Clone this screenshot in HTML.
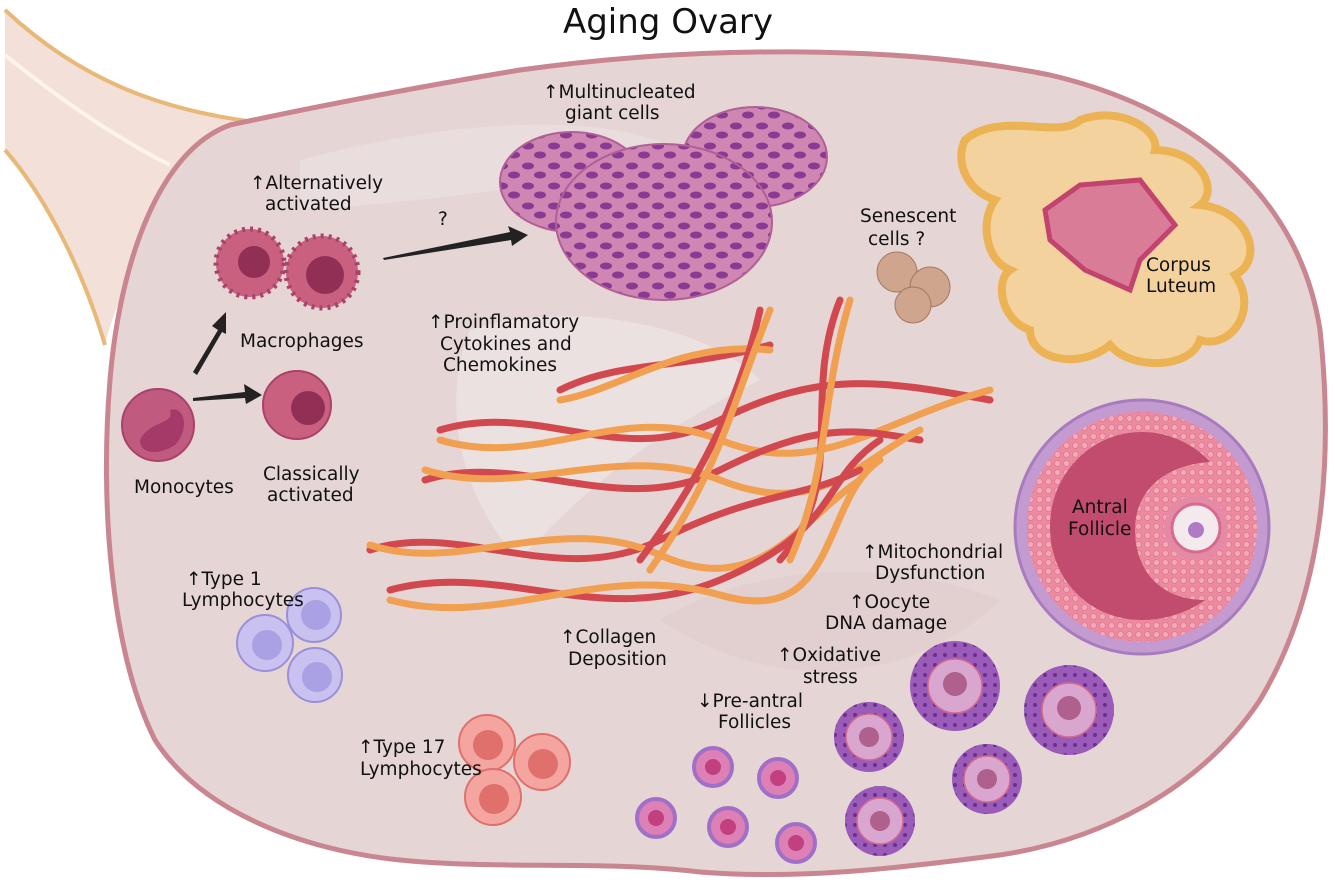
<!DOCTYPE html><html><head><style>body{margin:0;background:#fff}svg{display:block}text{font-family:"DejaVu Sans","Liberation Sans",sans-serif;font-size:18.5px;fill:#111}</style></head><body>
<svg width="1335" height="890" viewBox="0 0 1335 890" xmlns="http://www.w3.org/2000/svg">
<defs>
<pattern id="gc" width="9" height="9" patternUnits="userSpaceOnUse"><rect width="9" height="9" fill="#ec8aa0"/><circle cx="4.5" cy="4.5" r="3" fill="#f5a9b8" stroke="#d8708a" stroke-width="0.6"/></pattern>
<pattern id="pf" width="10" height="10" patternUnits="userSpaceOnUse"><rect width="10" height="10" fill="#9a5cb8"/><circle cx="5" cy="5" r="2" fill="#6b2f8f"/></pattern>
<pattern id="nuc" width="26" height="20" patternUnits="userSpaceOnUse"><rect width="26" height="20" fill="#cf86b3"/><ellipse cx="8" cy="6" rx="6" ry="3.5" fill="#8a3a93"/><ellipse cx="20" cy="15" rx="6" ry="3.5" fill="#8a3a93"/></pattern>
</defs>
<path d="M5,10 C80,80 160,110 255,122 L225,150 C170,200 120,280 105,345 C80,260 40,190 5,150 Z" fill="#f3e0d8"/>
<path d="M5,10 C80,80 160,110 255,122" fill="none" stroke="#e8b878" stroke-width="4"/>
<path d="M5,150 C40,190 80,260 105,345" fill="none" stroke="#e8b878" stroke-width="4"/>
<path d="M5,55 C60,100 120,140 170,165" fill="none" stroke="#fff3ee" stroke-width="4"/>
<path d="M230,125 C300,110 400,90 520,70 C700,45 900,45 1050,75 C1200,110 1300,200 1320,330 C1335,470 1320,600 1260,700 C1200,790 1100,840 1000,855 C900,868 800,880 700,872 C600,860 500,870 400,860 C300,850 200,810 155,740 C110,650 100,500 110,380 C120,260 160,150 230,125 Z" fill="#e6d5d5" stroke="#c98690" stroke-width="5"/>
<path d="M300,160 C450,120 600,110 680,150 C600,180 450,200 300,210 Z" fill="#ebdfdf" opacity="0.8"/>
<path d="M470,330 C560,300 700,320 760,380 C680,420 600,470 520,560 C460,500 440,400 470,330 Z" fill="#eee3e3" opacity="0.8"/>
<path d="M660,620 C760,560 900,560 1000,600 C920,680 780,700 660,620Z" fill="#ddcaca" opacity="0.5"/>
<text x="668" y="33" text-anchor="middle" style="font-size:34px">Aging Ovary</text>
<g>
<circle cx="250" cy="263" r="34" fill="#c9607f" stroke="#a8426a" stroke-width="5" stroke-dasharray="3 5"/><circle cx="254" cy="262" r="16" fill="#922f55"/>
<circle cx="322" cy="272" r="36" fill="#c9607f" stroke="#a8426a" stroke-width="5" stroke-dasharray="3 5"/><circle cx="325" cy="275" r="19" fill="#922f55"/>
<circle cx="297" cy="405" r="34" fill="#c9607f" stroke="#a8426a" stroke-width="2"/><circle cx="308" cy="408" r="17" fill="#922f55"/>
<circle cx="158" cy="425" r="36" fill="#c05a7f" stroke="#a8426a" stroke-width="2"/><path d="M140,440 C150,420 175,425 170,410 C185,405 190,430 175,445 C160,455 140,455 140,440Z" fill="#a53a68"/>
</g>
<path d="M193,372 L218,330 L212,326 L226,312 L226,334 L222,332 L197,375Z" fill="#222"/>
<path d="M193,398 L245,392 L244,384 L262,395 L246,404 L245,398 L193,401Z" fill="#222"/>
<path d="M383,258 L510,232 L508,226 L528,235 L512,246 L511,240 L384,260Z" fill="#222"/>
<text x="250" y="189">↑Alternatively</text><text x="265" y="210">activated</text>
<text x="438" y="225">?</text>
<text x="240" y="347">Macrophages</text>
<text x="134" y="493">Monocytes</text>
<text x="263" y="480">Classically</text><text x="267" y="501">activated</text>
<ellipse cx="572" cy="182" rx="72" ry="50" fill="url(#nuc)" stroke="#b06095" stroke-width="2"/>
<ellipse cx="755" cy="157" rx="72" ry="50" fill="url(#nuc)" stroke="#b06095" stroke-width="2"/>
<ellipse cx="664" cy="222" rx="108" ry="78" fill="url(#nuc)" stroke="#b06095" stroke-width="2"/>
<text x="543" y="98">↑Multinucleated</text><text x="565" y="119">giant cells</text>
<text x="860" y="222">Senescent</text><text x="868" y="245">cells ?</text>
<circle cx="897" cy="272" r="20" fill="#cfa58e" stroke="#a27860"/><circle cx="930" cy="287" r="20" fill="#cfa58e" stroke="#a27860"/><circle cx="913" cy="305" r="18" fill="#cfa58e" stroke="#a27860"/>
<path d="M965,140 C1000,110 1060,140 1080,120 C1120,105 1160,130 1155,150 C1200,150 1220,190 1200,205 C1250,210 1265,260 1235,275 C1260,310 1230,350 1200,340 C1190,370 1130,370 1110,345 C1080,370 1030,360 1030,330 C1000,320 995,280 1010,270 C985,260 980,220 995,200 C965,190 955,160 965,140Z" fill="#f3d29e" stroke="#ecb355" stroke-width="8"/>
<path d="M1045,210 L1080,185 L1140,180 L1175,225 L1140,260 L1130,290 L1085,270 L1050,240Z" fill="#d97c98" stroke="#c2436e" stroke-width="5"/>
<text x="1146" y="271">Corpus</text><text x="1146" y="292">Luteum</text>
<circle cx="1142" cy="527" r="127" fill="#c49bd0" stroke="#a77cbf" stroke-width="3"/>
<circle cx="1142" cy="527" r="115" fill="url(#gc)"/>
<path d="M1142,432 C1090,432 1050,475 1050,527 C1050,580 1090,620 1142,620 C1180,620 1205,600 1205,600 C1160,600 1135,570 1135,530 C1135,490 1165,465 1210,462 C1195,445 1170,432 1142,432Z" fill="#c24c6e"/>
<circle cx="1196" cy="528" r="32" fill="#e58aa6"/><circle cx="1196" cy="528" r="24" fill="#f4eaee" stroke="#d76a8e" stroke-width="3"/><circle cx="1196" cy="530" r="8" fill="#b07ac4"/>
<text x="1072" y="513">Antral</text><text x="1068" y="535">Follicle</text>
<g fill="none" stroke-width="7" stroke-linecap="round">
<path d="M440,430 C540,400 620,470 720,420 S880,380 990,400" stroke="#d2484f"/>
<path d="M440,440 C540,470 620,400 720,440 S880,420 990,390" stroke="#f0a050"/>
<path d="M425,480 C520,450 620,520 720,470 S860,430 920,440" stroke="#d2484f"/>
<path d="M425,470 C520,500 620,440 720,480 S860,460 920,430" stroke="#f0a050"/>
<path d="M370,550 C460,520 560,590 660,540 S800,500 860,470" stroke="#d2484f"/>
<path d="M370,545 C460,575 560,510 660,555 S800,520 860,480" stroke="#f0a050"/>
<path d="M390,590 C500,560 600,630 720,580 S820,480 880,440" stroke="#d2484f"/>
<path d="M390,600 C500,630 600,560 720,595 S820,500 880,460" stroke="#f0a050"/>
<path d="M560,390 C620,360 680,370 770,345" stroke="#d2484f"/><path d="M560,400 C620,390 680,340 770,350" stroke="#f0a050"/>
<path d="M840,300 C800,400 850,480 780,560" stroke="#d2484f"/><path d="M850,300 C820,400 830,470 790,560" stroke="#f0a050"/>
<path d="M760,310 C740,400 700,480 640,560" stroke="#d2484f"/><path d="M770,310 C730,410 720,470 650,570" stroke="#f0a050"/>
</g>
<text x="428" y="328">↑Proinflamatory</text><text x="440" y="350">Cytokines and</text><text x="443" y="371">Chemokines</text>
<text x="560" y="643">↑Collagen</text><text x="568" y="665">Deposition</text>
<text x="862" y="558">↑Mitochondrial</text><text x="875" y="579">Dysfunction</text>
<text x="849" y="608">↑Oocyte</text><text x="825" y="629">DNA damage</text>
<text x="777" y="661">↑Oxidative</text><text x="803" y="683">stress</text>
<text x="697" y="707">↓Pre-antral</text><text x="718" y="728">Follicles</text>
<g stroke="#9a8fd8" stroke-width="2" fill="#c9c2f0"><circle cx="314" cy="615" r="27"/><circle cx="265" cy="643" r="28"/><circle cx="315" cy="675" r="27"/></g>
<g fill="#aaa0e4"><circle cx="316" cy="615" r="15"/><circle cx="267" cy="645" r="15"/><circle cx="317" cy="677" r="15"/></g>
<text x="186" y="585">↑Type 1</text><text x="182" y="606">Lymphocytes</text>
<g stroke="#e0706c" stroke-width="2" fill="#f4a5a0"><circle cx="487" cy="743" r="28"/><circle cx="542" cy="762" r="28"/><circle cx="493" cy="797" r="28"/></g>
<g fill="#e0706c"><circle cx="488" cy="745" r="15"/><circle cx="543" cy="764" r="15"/><circle cx="494" cy="799" r="15"/></g>
<text x="358" y="753">↑Type 17</text><text x="360" y="775">Lymphocytes</text>
<g>
<g fill="url(#pf)"><circle cx="955" cy="686" r="45"/><circle cx="1069" cy="710" r="45"/><circle cx="869" cy="737" r="35"/><circle cx="987" cy="779" r="35"/><circle cx="880" cy="821" r="35"/></g>
<g fill="#d9a6d0" stroke="#d66a8a" stroke-width="1.5"><circle cx="955" cy="686" r="27"/><circle cx="1069" cy="710" r="27"/><circle cx="869" cy="737" r="23"/><circle cx="987" cy="779" r="23"/><circle cx="880" cy="821" r="23"/></g>
<g fill="#b0608c"><circle cx="955" cy="684" r="12"/><circle cx="1069" cy="708" r="12"/><circle cx="869" cy="737" r="10"/><circle cx="987" cy="779" r="10"/><circle cx="880" cy="821" r="10"/></g>
<g fill="#dc80b5" stroke="#a070c8" stroke-width="4"><circle cx="713" cy="767" r="19"/><circle cx="778" cy="778" r="19"/><circle cx="656" cy="818" r="19"/><circle cx="728" cy="827" r="19"/><circle cx="796" cy="843" r="19"/></g>
<g fill="#c2407f"><circle cx="713" cy="767" r="8"/><circle cx="778" cy="778" r="8"/><circle cx="656" cy="818" r="8"/><circle cx="728" cy="827" r="8"/><circle cx="796" cy="843" r="8"/></g>
</g>
</svg></body></html>
